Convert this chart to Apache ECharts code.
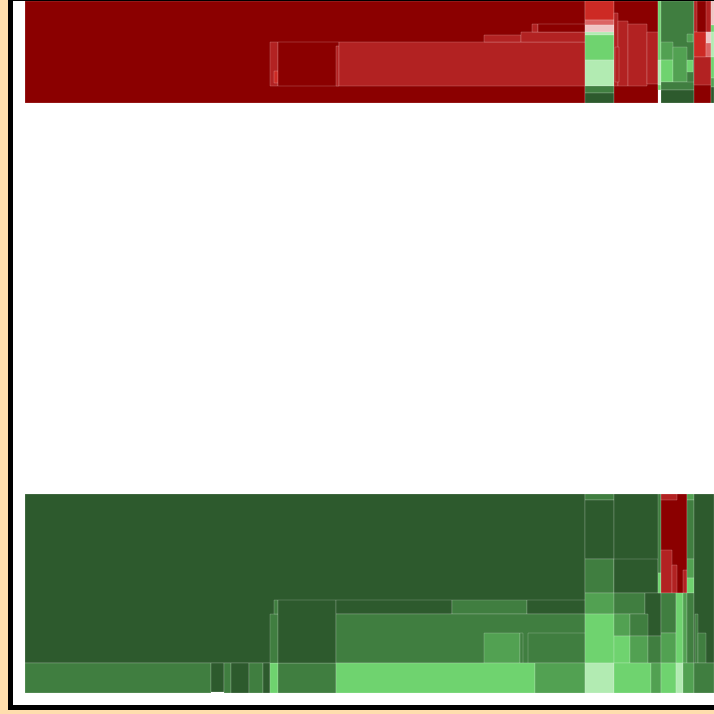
<!DOCTYPE html>
<html><head><meta charset="utf-8">
<script src="https://cdn.jsdelivr.net/npm/echarts@6/dist/echarts.min.js"></script>
<style>
html,body{margin:0;padding:0;overflow:hidden;background:#FFDEAD;width:714px;height:714px;}
#frame{position:absolute;left:10px;top:-2px;width:800px;height:704px;border:3px solid #000;background:#fff;box-shadow:-2px 2px 0 #000;}
#chart{position:absolute;left:0;top:0;width:714px;height:714px;}
</style></head>
<body>
<div id="frame"></div>
<div id="chart"></div>
<script>
// Each cell: [xStart, xEnd, yStart, yEnd, level]; level < 0 = loss (red), level > 0 = gain (green)
const levels = [-5, -4, -3, -2, -1, 1, 2, 3, 4, 5];

const topBandMain = [
  [25, 585, 1, 103, -5],
  [270, 278, 42, 86, -4],
  [274, 278, 71, 83, -3],
  [278, 339, 42, 86, -5],
  [336, 339, 46, 86, -4],
  [339, 585, 42, 86, -4],
  [484, 521, 35, 42, -4],
  [521, 585, 32, 42, -4],
  [532, 538, 24, 32, -4],
  [538, 585, 24, 32, -5]
];

const topBandRight = [
  [585, 614, 1, 20, -3],
  [585, 614, 20, 25, -2],
  [585, 614, 25, 32, -1],
  [585, 614, 32, 35, 1],
  [585, 614, 35, 60, 2],
  [585, 614, 60, 86, 1],
  [585, 614, 86, 93, 4],
  [585, 614, 93, 103, 5],
  [614, 658, 1, 103, -5],
  [614, 618, 13, 86, -4],
  [618, 628, 21, 86, -4],
  [628, 647, 24, 86, -4],
  [647, 658, 32, 84, -4],
  [615, 619, 47, 82, -4],
  [658, 661, 1, 90, 2],
  [658, 661, 60, 85, 1],
  [661, 694, 1, 103, 4],
  [661, 673, 42, 60, 3],
  [661, 673, 60, 82, 2],
  [673, 687, 47, 82, 3],
  [687, 693, 34, 42, 3],
  [687, 693, 60, 72, 2],
  [661, 694, 82, 90, 4],
  [661, 694, 90, 103, 5],
  [694, 711, 1, 103, -5],
  [694, 697, 1, 32, -4],
  [706, 711, 1, 32, -4],
  [694, 706, 32, 57, -3],
  [706, 711, 32, 43, -1],
  [706, 711, 43, 57, -2],
  [694, 711, 57, 85, -4],
  [711, 714, 1, 25, -1],
  [711, 714, 25, 32, 2],
  [711, 714, 32, 57, 1],
  [711, 714, 57, 78, 2],
  [711, 714, 78, 87, 3],
  [711, 714, 87, 103, 5]
];

const bottomBandMain = [
  [25, 585, 494, 663, 5],
  [25, 211, 663, 693, 4],
  [211, 224, 663, 692, 5],
  [224, 231, 663, 693, 4],
  [231, 249, 663, 693, 5],
  [249, 263, 663, 693, 4],
  [263, 270, 663, 693, 5],
  [270, 278, 663, 693, 2],
  [278, 336, 663, 693, 4],
  [270, 278, 614, 663, 4],
  [274, 278, 600, 614, 4],
  [278, 336, 600, 663, 5],
  [336, 452, 600, 614, 5],
  [452, 527, 600, 614, 4],
  [527, 585, 600, 614, 5],
  [336, 585, 614, 663, 4],
  [484, 520, 633, 663, 3],
  [520, 523, 633, 663, 4],
  [528, 585, 633, 663, 4],
  [336, 535, 663, 693, 2],
  [535, 585, 663, 693, 3]
];

const bottomBandRight = [
  [585, 614, 494, 500, 4],
  [585, 614, 500, 559, 5],
  [585, 614, 559, 593, 4],
  [585, 614, 593, 614, 3],
  [585, 614, 614, 663, 2],
  [585, 614, 663, 693, 1],
  [614, 661, 494, 593, 5],
  [614, 658, 559, 593, 5],
  [614, 645, 593, 614, 4],
  [645, 661, 593, 636, 5],
  [614, 630, 614, 636, 3],
  [630, 648, 614, 636, 4],
  [614, 630, 636, 663, 2],
  [630, 648, 636, 663, 3],
  [648, 661, 636, 663, 4],
  [614, 651, 663, 693, 2],
  [651, 661, 663, 693, 3],
  [658, 661, 494, 573, 4],
  [658, 661, 573, 593, 2],
  [661, 687, 494, 593, -5],
  [661, 677, 494, 500, -4],
  [661, 672, 550, 593, -4],
  [672, 677, 565, 593, -4],
  [683, 687, 570, 593, -4],
  [687, 694, 494, 500, 3],
  [687, 694, 500, 559, 4],
  [687, 694, 559, 578, 3],
  [687, 694, 578, 593, 2],
  [661, 676, 593, 633, 4],
  [661, 676, 633, 663, 3],
  [676, 683, 593, 663, 2],
  [683, 687, 593, 663, 3],
  [687, 694, 593, 663, 4],
  [661, 676, 663, 693, 2],
  [676, 683, 663, 693, 1],
  [683, 694, 663, 693, 3],
  [694, 714, 494, 663, 5],
  [695, 698, 614, 663, 4],
  [698, 706, 633, 663, 4],
  [694, 714, 663, 693, 4]
];

const levelColors = {
  '-5': '#8B0000', '-4': '#B22222', '-3': '#CD2A24', '-2': '#DC6464', '-1': '#F0C4C4',
  '1': '#B2EBB2', '2': '#6FD36F', '3': '#52A152', '4': '#407E40', '5': '#2D5A2D'
};

const allCells = [].concat(topBandMain, topBandRight, bottomBandMain, bottomBandRight);

const chart = echarts.init(document.getElementById('chart'), null, {renderer: 'canvas'});
chart.setOption({
  animation: false,
  backgroundColor: 'transparent',
  grid: {left: 25, right: 0, top: 1, bottom: 21},
  xAxis: {type: 'value', min: 25, max: 714, show: false},
  yAxis: {type: 'value', min: 1, max: 693, inverse: true, show: false},
  series: [{
    type: 'custom',
    clip: true,
    encode: {x: [0, 1], y: [2, 3]},
    data: allCells,
    renderItem: function (params, api) {
      const p0 = api.coord([api.value(0), api.value(2)]);
      const p1 = api.coord([api.value(1), api.value(3)]);
      return {
        type: 'rect',
        shape: {x: p0[0], y: p0[1], width: p1[0] - p0[0], height: p1[1] - p0[1]},
        style: {fill: levelColors[String(api.value(4))], stroke: 'rgba(255,255,255,0.18)', lineWidth: 1}
      };
    }
  }]
});
</script>
</body></html>
